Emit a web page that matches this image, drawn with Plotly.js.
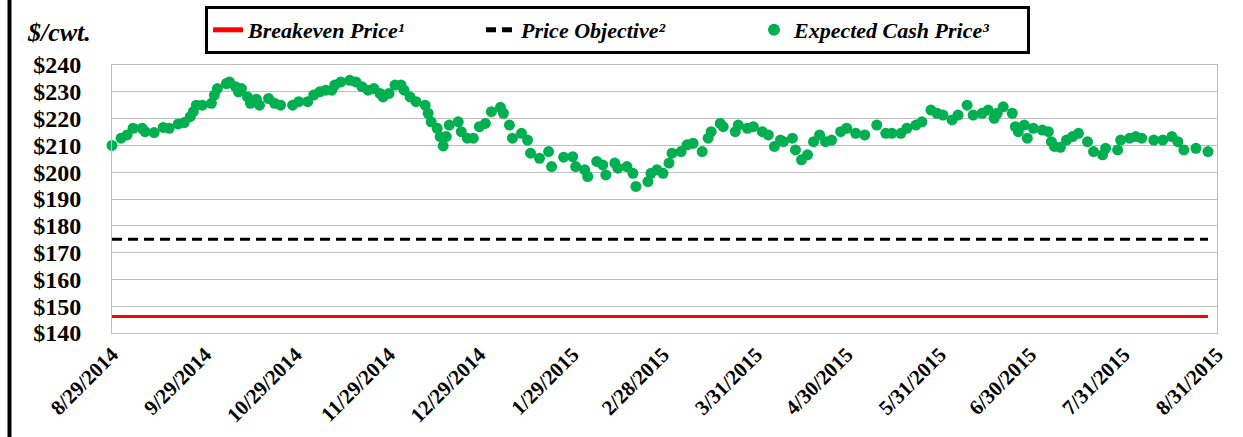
<!DOCTYPE html>
<html>
<head>
<meta charset="utf-8">
<script src="https://cdn.plot.ly/plotly-3.0.1.min.js"></script>
<style>
html,body{margin:0;padding:0;background:#fff;}
#chart{width:1243px;height:437px;}
</style>
</head>
<body>
<div id="chart"></div>
<script>
// ---- Data ----
const cashDates = [
'2014-08-29','2014-09-01','2014-09-03','2014-09-05','2014-09-08','2014-09-09','2014-09-12','2014-09-15','2014-09-17','2014-09-20',
'2014-09-22','2014-09-24','2014-09-25','2014-09-26','2014-09-28','2014-10-01','2014-10-02','2014-10-03','2014-10-06','2014-10-07',
'2014-10-09','2014-10-10','2014-10-11','2014-10-13','2014-10-14','2014-10-16','2014-10-17','2014-10-20','2014-10-22','2014-10-24',
'2014-10-28','2014-10-30','2014-11-02','2014-11-04','2014-11-06','2014-11-08','2014-11-10','2014-11-11','2014-11-13','2014-11-16',
'2014-11-18','2014-11-20','2014-11-22','2014-11-24','2014-11-26','2014-11-27','2014-11-29','2014-12-01','2014-12-03','2014-12-04',
'2014-12-06','2014-12-08','2014-12-11','2014-12-12','2014-12-13','2014-12-15','2014-12-16','2014-12-17','2014-12-18','2014-12-19',
'2014-12-22','2014-12-23','2014-12-25','2014-12-27','2014-12-29','2014-12-31','2015-01-02','2015-01-05','2015-01-06','2015-01-08',
'2015-01-09','2015-01-12','2015-01-14','2015-01-15','2015-01-18','2015-01-21','2015-01-22','2015-01-26','2015-01-29','2015-01-30',
'2015-02-02','2015-02-03','2015-02-06','2015-02-08','2015-02-09','2015-02-12','2015-02-13','2015-02-16','2015-02-18','2015-02-19',
'2015-02-23','2015-02-24','2015-02-26','2015-02-28','2015-03-02','2015-03-03','2015-03-06','2015-03-08','2015-03-10','2015-03-13',
'2015-03-15','2015-03-16','2015-03-19','2015-03-20','2015-03-24','2015-03-25','2015-03-28','2015-03-30','2015-04-02','2015-04-04',
'2015-04-06','2015-04-08','2015-04-09','2015-04-12','2015-04-13','2015-04-15','2015-04-17','2015-04-19','2015-04-21','2015-04-23',
'2015-04-25','2015-04-28','2015-04-30','2015-05-03','2015-05-06','2015-05-10','2015-05-13','2015-05-15','2015-05-18','2015-05-20',
'2015-05-23','2015-05-25','2015-05-28','2015-05-30','2015-06-01','2015-06-04','2015-06-06','2015-06-09','2015-06-11','2015-06-14',
'2015-06-16','2015-06-18','2015-06-19','2015-06-21','2015-06-24','2015-06-25','2015-06-26','2015-06-28','2015-06-29','2015-07-01',
'2015-07-04','2015-07-06','2015-07-07','2015-07-08','2015-07-10','2015-07-12','2015-07-14','2015-07-16','2015-07-19','2015-07-21',
'2015-07-24','2015-07-25','2015-07-29','2015-07-30','2015-08-02','2015-08-04','2015-08-06','2015-08-10','2015-08-13','2015-08-16',
'2015-08-18','2015-08-20','2015-08-24','2015-08-28'
];
const cashPrices = [
210.0,212.7,213.9,216.4,216.4,215.1,214.8,216.7,216.4,218.0,
218.5,220.7,222.6,225.0,225.0,225.7,228.8,231.2,233.1,233.7,
231.9,230.0,231.2,228.1,225.7,227.2,225.0,227.5,225.7,225.0,
225.0,226.3,226.3,228.8,230.0,230.6,230.6,232.5,233.7,234.3,
233.7,231.9,230.6,231.2,229.4,228.1,229.4,232.5,232.5,230.6,
228.1,226.3,225.0,222.0,218.8,216.4,213.3,209.8,213.3,217.6,
218.8,215.1,212.7,212.7,217.0,218.2,222.6,224.2,222.0,217.6,
212.7,214.5,212.0,207.1,205.2,207.7,202.1,205.6,205.8,202.1,
200.9,198.4,204.0,202.7,199.0,203.4,201.5,202.1,199.6,194.7,
196.5,199.6,200.9,199.6,203.4,207.1,207.7,210.2,210.8,207.7,
212.7,215.1,218.2,217.0,215.1,217.6,216.4,217.0,215.1,213.9,
209.6,212.0,211.4,212.7,208.3,204.6,206.5,211.4,213.9,211.4,
212.0,215.1,216.4,214.5,213.9,217.6,214.5,214.5,214.5,216.4,
217.6,218.8,223.2,222.0,221.3,219.5,221.3,225.0,221.3,222.0,
223.2,220.1,222.0,224.4,222.0,217.0,215.1,217.6,212.7,216.4,
215.7,215.1,211.4,209.6,209.3,212.0,213.3,214.5,211.4,207.7,
206.5,208.9,208.3,212.0,212.7,213.3,212.7,212.0,212.0,213.3,
211.4,208.3,208.9,207.7
];
const breakevenPrice = 146.2;
const priceObjective = 175;
const seriesNames = ['Breakeven Price\u00b9', 'Price Objective\u00b2', 'Expected Cash Price\u00b3'];
const tickDates = ['2014-08-29','2014-09-29','2014-10-29','2014-11-29','2014-12-29','2015-01-29','2015-02-28','2015-03-31','2015-04-30','2015-05-31','2015-06-30','2015-07-31','2015-08-31'];
const tickLabels = ['8/29/2014','9/29/2014','10/29/2014','11/29/2014','12/29/2014','1/29/2015','2/28/2015','3/31/2015','4/30/2015','5/31/2015','6/30/2015','7/31/2015','8/31/2015'];
const yAxisTitle = '$/cwt.';

// ---- Chart ----
const first = cashDates[0], last = cashDates[cashDates.length - 1];
const serif = 'Liberation Serif, Times New Roman, serif';

const traces = [
  {
    x: [first, last], y: [breakevenPrice, breakevenPrice],
    type: 'scatter', mode: 'lines', name: seriesNames[0],
    line: {color: '#ff0000', width: 3}
  },
  {
    x: [first, last], y: [priceObjective, priceObjective],
    type: 'scatter', mode: 'lines', name: seriesNames[1],
    line: {color: '#000000', width: 3, dash: '10px,6px'}
  },
  {
    x: cashDates, y: cashPrices,
    type: 'scatter', mode: 'markers', name: seriesNames[2],
    marker: {color: '#00b050', size: 11},
    cliponaxis: false
  }
];

const W = 1243, H = 437;
const L = 112, R = 26, T = 65, B = 104;
const pw = W - L - R, ph = H - T - B;
const px = v => (v - L) / pw;
const py = v => 1 - (v - T) / ph;

const layout = {
  width: W, height: H,
  margin: {l: L, r: R, t: T, b: B, pad: 0, autoexpand: false},
  paper_bgcolor: '#ffffff', plot_bgcolor: '#ffffff',
  showlegend: true,
  legend: {
    orientation: 'h',
    x: px(205), xanchor: 'left',
    y: py(30), yanchor: 'middle',
    bordercolor: '#000000', borderwidth: 3, bgcolor: '#ffffff',
    font: {family: serif, size: 22, color: '#000', weight: 'bold', style: 'italic'},
    entrywidth: 228, entrywidthmode: 'pixels',
    itemsizing: 'constant'
  },
  xaxis: {
    type: 'date',
    range: ['2014-08-29', '2015-08-31'],
    tickmode: 'array', tickvals: tickDates, ticktext: tickLabels,
    tickangle: -45,
    tickfont: {family: serif, size: 21, color: '#000', weight: 'bold'},
    showgrid: false, zeroline: false,
    showline: true, mirror: true, linecolor: '#bfbfbf', linewidth: 1,
    ticks: '', automargin: false
  },
  yaxis: {
    range: [140, 240], dtick: 10, tick0: 140,
    tickprefix: '$',
    tickfont: {family: serif, size: 24, color: '#000', weight: 'bold'},
    showgrid: true, gridcolor: '#bfbfbf', gridwidth: 1,
    zeroline: false,
    showline: true, mirror: true, linecolor: '#bfbfbf', linewidth: 1,
    ticks: '', ticklabelstandoff: 25, automargin: false
  },
  annotations: [{
    text: yAxisTitle, xref: 'paper', yref: 'paper',
    x: px(59), y: py(32), xanchor: 'center', yanchor: 'middle',
    showarrow: false,
    font: {family: serif, size: 26, color: '#000', weight: 'bold', style: 'italic'}
  }],
  shapes: [{
    type: 'line', xref: 'paper', yref: 'paper',
    x0: px(9.5), x1: px(9.5), y0: py(0), y1: py(H),
    line: {color: '#000', width: 4}
  }]
};

Plotly.newPlot('chart', traces, layout, {displayModeBar: false, staticPlot: true});
</script>
</body>
</html>
